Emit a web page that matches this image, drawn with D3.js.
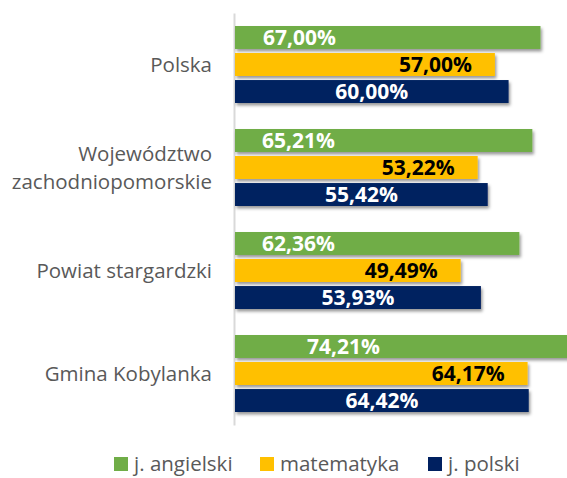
<!DOCTYPE html>
<html>
<head>
<meta charset="utf-8">
<script src="https://cdn.jsdelivr.net/npm/d3@7"></script>
<style>
  body { margin: 0; background: #fff; }
  svg { display: block; }
</style>
</head>
<body>
<div class="chart"></div>
<script>
// Wyniki egzaminu - grouped horizontal bars

// data
var categories = ["Polska", "Województwo zachodniopomorskie", "Powiat stargardzki", "Gmina Kobylanka"];
var categoryLines = [["Polska"], ["Województwo", "zachodniopomorskie"], ["Powiat stargardzki"], ["Gmina Kobylanka"]];
var series = ["j. angielski", "matematyka", "j. polski"];
var angielski = [67.00, 65.21, 62.36, 74.21];
var matematyka = [57.00, 53.22, 49.49, 64.17];
var polski = [60.00, 55.42, 53.93, 64.42];
var colors = ["#70AD47", "#FFC000", "#002060"];
var labelColors = ["#ffffff", "#000000", "#ffffff"];

var svgWidth = 567;
var svgHeight = 478;

// manual shift of the green labels (as in the original)
var greenLabelPad = [28, 27, 27, 72];

var svg = d3.select(".chart")
    .append("svg")
    .attr("width", svgWidth)
    .attr("height", svgHeight);

// drop shadow for bars
var defs = svg.append("defs");
defs.append("filter")
    .attr("id", "shadow")
    .attr("x", "-5%").attr("y", "-20%")
    .attr("width", "115%").attr("height", "160%")
    .append("feDropShadow")
    .attr("dx", 1.5)
    .attr("dy", 2.5)
    .attr("stdDeviation", 1.5)
    .attr("flood-color", "#000")
    .attr("flood-opacity", 0.4);

var rows = categories.map(function (c, i) {
    return { cat: c, idx: i, values: [angielski[i], matematyka[i], polski[i]] };
});

// scales
var xScale = d3.scaleLinear()
    .domain([0, 67])
    .range([235, 540.5]);

var y0 = d3.scaleBand()
    .domain(categories)
    .range([13, 425])
    .paddingInner(0);

var y1 = d3.scaleBand()
    .domain(series)
    .range([13, 90])
    .paddingInner(0.15);

// category axis (left)
var leftAxis = d3.axisLeft(y0).tickSize(0).tickFormat("");
svg.append("g")
    .attr("transform", "translate(234, 0)")
    .call(leftAxis)
    .call(function (g) {
        g.select(".domain").attr("stroke", "#d9d9d9").attr("stroke-width", 2);
    });

// category labels
var catLabels = svg.append("g")
    .selectAll("text")
    .data(rows)
    .enter()
    .append("text")
    .attr("x", 212)
    .attr("y", d => y0(d.cat) + y0.bandwidth() / 2)
    .attr("text-anchor", "end")
    .attr("fill", "#595959")
    .style("font-family", "'Open Sans', sans-serif")
    .style("font-size", "20.5px");

catLabels.each(function (d) {
    var lines = categoryLines[d.idx];
    var t = d3.select(this);
    lines.forEach(function (line, j) {
        t.append("tspan")
            .attr("x", 212)
            .attr("dy", j === 0 ? (0.35 - (lines.length - 1) * 0.68) + "em" : "1.36em")
            .text(line);
    });
});

// groups
var groups = svg.append("g")
    .selectAll("g")
    .data(rows)
    .enter()
    .append("g")
    .attr("transform", d => `translate(0, ${y0(d.cat)})`);

var cells = groups.selectAll("g")
    .data(d => d.values.map((v, k) => ({ v: v, k: k, row: d.idx })))
    .enter()
    .append("g");

cells.append("rect")
    .attr("x", xScale(0))
    .attr("y", d => y1(series[d.k]))
    .attr("width", d => xScale(d.v) - xScale(0))
    .attr("height", y1.bandwidth())
    .attr("fill", d => colors[d.k])
    .attr("filter", "url(#shadow)");

function fmt(v) {
    return v.toFixed(2).replace(".", ",") + "%";
}

cells.append("text")
    .attr("x", function (d) {
        if (d.k === 0) return xScale(0) + greenLabelPad[d.row];
        if (d.k === 1) return xScale(d.v) - 23;
        return (xScale(0) + xScale(d.v)) / 2;
    })
    .attr("y", d => y1(series[d.k]) + y1.bandwidth() / 2)
    .attr("dy", "0.36em")
    .attr("text-anchor", d => d.k === 0 ? "start" : (d.k === 1 ? "end" : "middle"))
    .attr("fill", d => labelColors[d.k])
    .style("font-family", "'Open Sans', sans-serif")
    .style("font-weight", "bold")
    .style("font-size", "21px")
    .text(d => fmt(d.v));

// legend
var legendX = [114, 260, 428];
var legend = svg.append("g")
    .selectAll("g")
    .data(series)
    .enter()
    .append("g")
    .attr("transform", (d, i) => `translate(${legendX[i]}, 457)`);

legend.append("rect")
    .attr("width", 14)
    .attr("height", 14)
    .attr("fill", (d, i) => colors[i]);

legend.append("text")
    .attr("x", 20)
    .attr("y", 7)
    .attr("dy", "0.34em")
    .attr("fill", "#595959")
    .style("font-family", "'Open Sans', sans-serif")
    .style("font-size", "20.5px")
    .text(d => d);
</script>
</body>
</html>
